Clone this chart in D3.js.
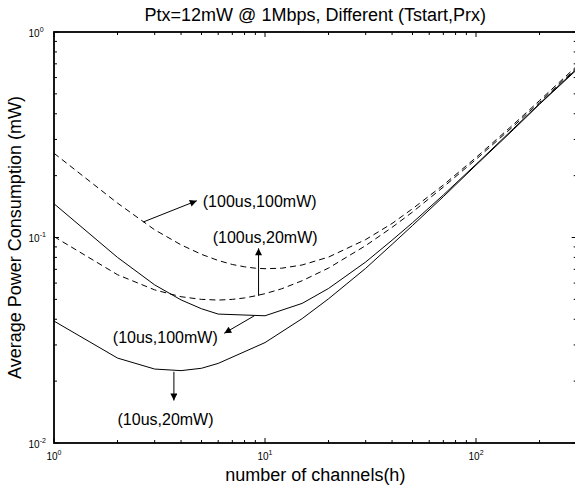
<!DOCTYPE html>
<html><head><meta charset="utf-8">
<script src="https://cdn.jsdelivr.net/npm/d3@7"></script>
<style>body{margin:0;background:#fff;overflow:hidden} svg{display:block}</style>
</head><body>
<svg id="chart" width="575" height="487"></svg>
<script>
// ---- data ----
const channels = [1, 2, 3, 4, 5, 6, 10, 15, 20, 30, 40, 50, 70, 100, 150, 200, 300];
const solid100mW = [0.146, 0.080, 0.0588, 0.0497, 0.0450, 0.0424, 0.0416, 0.0478, 0.0565, 0.076, 0.097, 0.118, 0.161, 0.227, 0.338, 0.448, 0.662];
const solid20mW  = [0.0392, 0.0259, 0.0229, 0.0225, 0.0231, 0.0244, 0.0308, 0.0403, 0.0503, 0.0708, 0.0926, 0.1144, 0.158, 0.225, 0.334, 0.445, 0.655];

const channelsDashed = [1, 2, 3, 4, 5, 6, 7, 8, 9, 10, 12, 15, 20, 30, 40, 50, 70, 100, 150, 200, 300];
const dashed100mW = [0.257, 0.147, 0.109, 0.0921, 0.0828, 0.0773, 0.0739, 0.0720, 0.0709, 0.0705, 0.0709, 0.0735, 0.0803, 0.0977, 0.117, 0.138, 0.180, 0.245, 0.354, 0.464, 0.682];
const dashed20mW  = [0.101, 0.0659, 0.0556, 0.0515, 0.0500, 0.0496, 0.0500, 0.0508, 0.0520, 0.0533, 0.0563, 0.0616, 0.071, 0.0913, 0.112, 0.133, 0.176, 0.240, 0.347, 0.455, 0.670];

const xTickMajors = [1, 10, 100];
const xTickExps = ["0", "1", "2"];
const yTickMajors = [1, 0.1, 0.01];
const yTickExps = ["0", "-1", "-2"];

const titleText = "Ptx=12mW @ 1Mbps, Different (Tstart,Prx)";
const xLabelText = "number of channels(h)";
const yLabelText = "Average Power Consumption (mW)";

// annotations in data coordinates: [h, P]
const annLabels = ["(100us,100mW)", "(100us,20mW)", "(10us,100mW)", "(10us,20mW)"];
const annTextPos = [[5.07, 0.140], [5.65, 0.0935], [1.90, 0.0307], [2.00, 0.01224]];
const annArrowFrom = [[2.65, 0.119], [9.32, 0.052], [8.9, 0.0416], [3.70, 0.0222]];
const annArrowTo = [[4.75, 0.151], [9.32, 0.0886], [6.41, 0.0342], [3.70, 0.0161]];

// ---- layout ----
const svg = d3.select("#chart");
const mLeft = 54, mRight = 576.7, mTop = 32, mBottom = 443;
const font = "'Liberation Sans', Arial, Helvetica, sans-serif";

const x = d3.scaleLog().domain([1, 300]).range([mLeft, mRight]);
const y = d3.scaleLog().domain([0.01, 1]).range([mBottom, mTop]);

const series = [
  {xs: channelsDashed, values: dashed100mW, dash: "6,4"},
  {xs: channelsDashed, values: dashed20mW, dash: "6,4"},
  {xs: channels, values: solid100mW, dash: null},
  {xs: channels, values: solid20mW, dash: null}
];

const lineGen = d3.line().x(d => x(d[0])).y(d => y(d[1]));

const defs = svg.append("defs");
defs.append("marker")
  .attr("id", "arrow").attr("markerUnits", "userSpaceOnUse")
  .attr("viewBox", "0 0 10 10").attr("refX", 10).attr("refY", 5)
  .attr("markerWidth", 8).attr("markerHeight", 7).attr("orient", "auto")
  .append("path").attr("d", "M0,0 L10,5 L0,10 Z").attr("fill", "#000");
defs.append("clipPath").attr("id", "clip").append("rect")
  .attr("x", mLeft).attr("y", mTop).attr("width", mRight - mLeft).attr("height", mBottom - mTop);

const linesG = svg.append("g").attr("clip-path", "url(#clip)");
series.forEach(s => {
  linesG.append("path")
    .datum(s.xs.map((h, i) => [h, s.values[i]]))
    .attr("d", lineGen)
    .attr("fill", "none").attr("stroke", "#000").attr("stroke-width", 1)
    .attr("stroke-dasharray", s.dash);
});

// ---- axes ----
function logTicks(lo, hi) {
  const out = [];
  for (let d = lo; d < hi * 1.0001; d *= 10) {
    for (let m = 1; m <= 9; m++) {
      const v = +(d * m).toPrecision(6);
      if (v >= lo * 0.9999 && v <= hi * 1.0001) out.push({v, major: m === 1});
    }
  }
  return out;
}
const xt = logTicks(1, 300);
const yt = logTicks(0.01, 1);
const tg = svg.append("g").attr("stroke", "#000").attr("stroke-width", 1);
xt.forEach(t => {
  const len = t.major ? 5 : 3, px = x(t.v);
  tg.append("line").attr("x1", px).attr("x2", px).attr("y1", mBottom).attr("y2", mBottom - len);
  tg.append("line").attr("x1", px).attr("x2", px).attr("y1", mTop).attr("y2", mTop + len);
});
yt.forEach(t => {
  const len = t.major ? 5 : 3, py = y(t.v);
  tg.append("line").attr("x1", mLeft).attr("x2", mLeft + len).attr("y1", py).attr("y2", py);
  tg.append("line").attr("x1", mRight).attr("x2", mRight - len).attr("y1", py).attr("y2", py);
});

svg.append("rect").attr("x", mLeft).attr("y", mTop)
  .attr("width", mRight - mLeft).attr("height", mBottom - mTop)
  .attr("fill", "none").attr("stroke", "#000").attr("stroke-width", 1.8);

// tick labels
xTickMajors.forEach((v, i) => {
  const t = svg.append("text").attr("x", x(v)).attr("y", mBottom + 17)
    .attr("text-anchor", "middle").attr("font-family", font).attr("font-size", 10).text("10");
  t.append("tspan").attr("dy", -5).attr("font-size", 7).text(xTickExps[i]);
});
yTickMajors.forEach((v, i) => {
  const t = svg.append("text").attr("x", 28.5).attr("y", y(v) + 4.5)
    .attr("text-anchor", "start").attr("font-family", font).attr("font-size", 10).text("10");
  t.append("tspan").attr("dy", -5).attr("font-size", 7).text(yTickExps[i]);
});

// titles
svg.append("text").attr("x", (mLeft + mRight) / 2).attr("y", 21)
  .attr("text-anchor", "middle").attr("font-family", font).attr("font-size", 18).text(titleText);
svg.append("text").attr("x", (mLeft + mRight) / 2).attr("y", 481)
  .attr("text-anchor", "middle").attr("font-family", font).attr("font-size", 18).text(xLabelText);
svg.append("text").attr("transform", `translate(21,${(mTop + mBottom) / 2}) rotate(-90)`)
  .attr("text-anchor", "middle").attr("font-family", font).attr("font-size", 18).text(yLabelText);

// annotations
annLabels.forEach((lab, i) => {
  svg.append("line")
    .attr("x1", x(annArrowFrom[i][0])).attr("y1", y(annArrowFrom[i][1]))
    .attr("x2", x(annArrowTo[i][0])).attr("y2", y(annArrowTo[i][1]))
    .attr("stroke", "#000").attr("stroke-width", 1).attr("marker-end", "url(#arrow)");
  svg.append("text").attr("x", x(annTextPos[i][0])).attr("y", y(annTextPos[i][1]))
    .attr("font-family", font).attr("font-size", 16).text(lab);
});
</script>
</body></html>
